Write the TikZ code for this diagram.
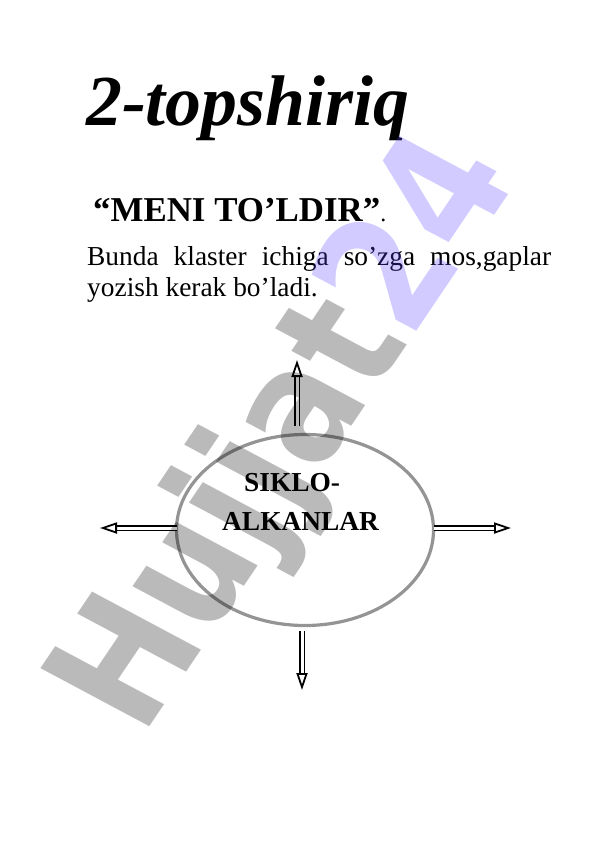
\documentclass[tikz,border=0pt]{standalone}
\usepackage{fontspec}
\setmainfont{Liberation Serif}
\newfontfamily\wmfont{DejaVu Sans}
\usepackage{tikz}
\usetikzlibrary{arrows.meta}
\usetikzlibrary{shapes.geometric}
\definecolor{wmlav}{rgb}{0.35,0.25,1}
\tikzstyle{txt} = [draw=none, inner sep = 0, anchor = base west]
\tikzstyle{ko} = [double, double distance = 3bp, line width = 1.8bp, -{Triangle[open, length = 17bp, width = 11bp]}]
\tikzstyle{wm} = [inner sep = 0, anchor = base west, transform shape, opacity = 0.27, text opacity = 0.27]

\begin{document}
\begin{tikzpicture}[x = 1bp, y = -1bp]
\useasboundingbox (0, 0) rectangle (596, 842);
\node [txt, font = \fontsize{72}{80}\selectfont\bfseries\itshape] (T) at (86, 125) {2-topshiriq};
\node [txt, font = \fontsize{35}{40}\selectfont] (M) at (93, 221) {\textbf{“MENI TO’LDIR”}{\fontsize{24}{28}\selectfont.}};
\node [txt, text width = 464bp, align = justify, font = \fontsize{27.5}{31.7}\selectfont] (B) at (87, 265) {Bunda klaster ichiga so’zga mos,gaplar\linebreak yozish kerak bo’ladi.};
% klaster
\node [ellipse, draw = black!42, line width = 3.2bp, minimum width = 257bp, minimum height = 191bp, inner sep = 0] (K) at (305, 530) {};
\node [txt, font = \fontsize{27.5}{30}\selectfont\bfseries] (S1) at (244, 491) {SIKLO-};
\node [txt, font = \fontsize{27.5}{30}\selectfont\bfseries] (S2) at (222, 530) {ALKANLAR};
\coordinate (N) at (297, 360);
\coordinate (W) at (100, 528);
\coordinate (E) at (511, 528);
\coordinate (D) at (302, 690);
\draw [ko] ([shift = {(-8, -7)}]K.north) -- (N);
\draw [ko] ([shift = {(2, -2)}]K.west) -- (W);
\draw [ko] ([shift = {(-1, -2)}]K.east) -- (E);
\draw [ko] ([shift = {(-3, 4)}]K.south) -- (D);
% watermark
\begin{scope}[shift = {(142, 738)}, cm = {0.794, 1.177, -1.50, 0.80, (0, 0)}]
\node [wm] (H) at (0, 0) {\wmfont\bfseries\fontsize{100}{100}\selectfont Hujjat\textcolor{wmlav}{ 24}};
\end{scope}
\end{tikzpicture}
\end{document}
